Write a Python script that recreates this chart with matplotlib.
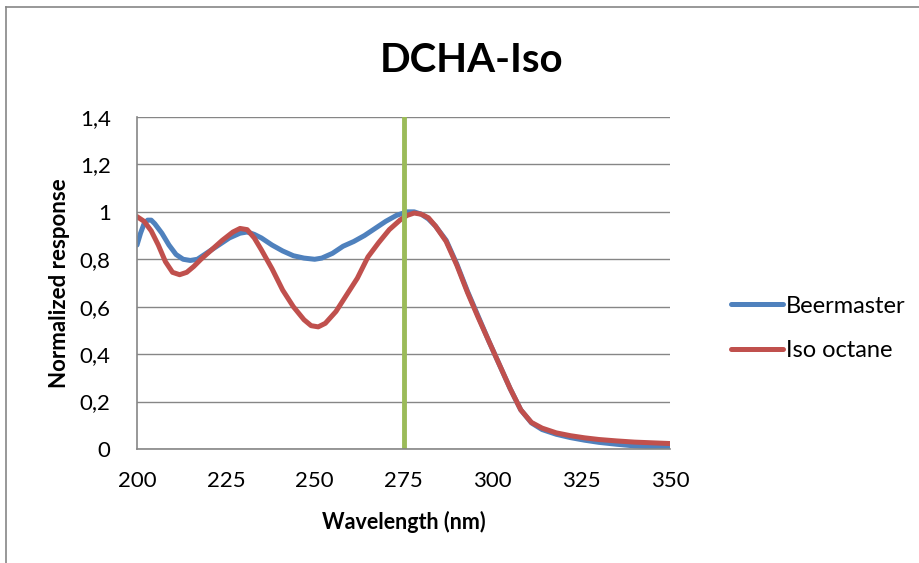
import matplotlib.pyplot as plt
from matplotlib.lines import Line2D

plt.rcParams['font.family'] = ['Lato', 'DejaVu Sans']

# Beermaster
bm_x = [200, 201, 202, 203, 204, 205, 207, 209, 211, 213, 215, 217, 220, 223, 226,
        229, 231, 233, 235, 238, 241, 244, 247, 250, 252, 255, 258, 261, 264, 267,
        270, 273, 276, 278, 280, 282, 284, 287, 290, 293, 296, 299, 302, 305, 308,
        311, 314, 318, 322, 326, 330, 335, 340, 345, 350]
bm_y = [0.86, 0.91, 0.95, 0.965, 0.965, 0.95, 0.91, 0.86, 0.82, 0.80, 0.795, 0.80,
        0.83, 0.86, 0.89, 0.91, 0.915, 0.905, 0.89, 0.86, 0.835, 0.815, 0.805, 0.80,
        0.805, 0.825, 0.855, 0.875, 0.90, 0.93, 0.96, 0.985, 1.0, 1.0, 0.99, 0.97,
        0.94, 0.88, 0.78, 0.665, 0.56, 0.455, 0.355, 0.255, 0.165, 0.11, 0.082,
        0.062, 0.048, 0.037, 0.028, 0.02, 0.013, 0.009, 0.006]

# Iso octane
io_x = [200, 202, 204, 206, 208, 210, 212, 214, 216, 218, 221, 224, 227, 229, 231,
        233, 235, 238, 241, 244, 247, 249, 251, 253, 256, 259, 262, 265, 268, 271,
        274, 276, 278, 280, 282, 284, 287, 290, 293, 296, 299, 302, 305, 308, 311,
        314, 318, 322, 326, 330, 335, 340, 345, 350]
io_y = [0.98, 0.96, 0.92, 0.86, 0.79, 0.745, 0.735, 0.745, 0.77, 0.80, 0.84, 0.88,
        0.915, 0.93, 0.925, 0.89, 0.84, 0.76, 0.67, 0.60, 0.545, 0.52, 0.515, 0.53,
        0.58, 0.65, 0.72, 0.81, 0.87, 0.925, 0.965, 0.985, 0.995, 0.99, 0.975, 0.94,
        0.875, 0.775, 0.66, 0.555, 0.455, 0.355, 0.255, 0.165, 0.112, 0.088, 0.068,
        0.056, 0.047, 0.04, 0.034, 0.029, 0.026, 0.023]

marker_wl = 275
x_ticks = [200, 225, 250, 275, 300, 325, 350]
y_ticks = [0, 0.2, 0.4, 0.6, 0.8, 1.0, 1.2, 1.4]
y_labels = ['0', '0,2', '0,4', '0,6', '0,8', '1', '1,2', '1,4']

fig = plt.figure(figsize=(9.2, 5.63), dpi=100)
ax = fig.add_axes([0.1489, 0.2025, 0.5794, 0.5897])

ax.plot(bm_x, bm_y, color='#4F81BD', lw=3.6, solid_capstyle='round',
        solid_joinstyle='round', label='Beermaster')
ax.plot(io_x, io_y, color='#C0504D', lw=3.6, solid_capstyle='round',
        solid_joinstyle='round', label='Iso octane')
ax.axvline(marker_wl, color='#9BBB59', lw=3.5)

ax.set_xlim(200, 350)
ax.set_ylim(0, 1.4)
ax.set_xticks(x_ticks)
ax.set_yticks(y_ticks)
ax.set_yticklabels(y_labels)
ax.tick_params(axis='both', length=0, labelsize=16)
ax.tick_params(axis='x', pad=16)
ax.tick_params(axis='y', pad=19)
ax.grid(axis='y', color='#868686', lw=1)
ax.set_axisbelow(True)
for s in ['top', 'right']:
    ax.spines[s].set_visible(False)
for s in ['left', 'bottom']:
    ax.spines[s].set_color('#868686')
    ax.spines[s].set_linewidth(1.2)

ax.set_xlabel('Wavelength (nm)', fontsize=15.5, fontweight='bold', labelpad=14)
ax.set_ylabel('Normalized response', fontsize=16, fontweight='bold', labelpad=7)
fig.text(0.513, 0.893, 'DCHA-Iso', ha='center', va='center', fontsize=29, fontweight='bold')

ax.legend(loc='center left', bbox_to_anchor=(0.771, 0.4165), bbox_transform=fig.transFigure,
          frameon=False, fontsize=17, handlelength=2.2, handletextpad=0.15, labelspacing=1.0)

# chart frame (top and left edges visible)
fig.add_artist(Line2D([6/920, 1], [1 - 7/563, 1 - 7/563], color='#868686', lw=1.2,
                      transform=fig.transFigure))
fig.add_artist(Line2D([6/920, 6/920], [0, 1 - 7/563], color='#868686', lw=1.2,
                      transform=fig.transFigure))

fig.savefig('out.png', dpi=100)
